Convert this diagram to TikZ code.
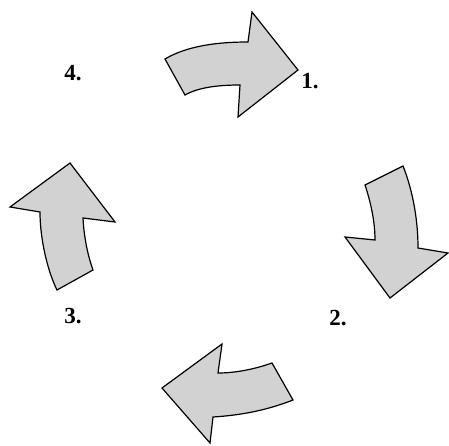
\documentclass[tikz,border=0pt]{standalone}
\usepackage{fontspec}
\setmainfont{Liberation Serif}
\usetikzlibrary{positioning}
\definecolor{arrowgray}{RGB}{210,210,210}

\begin{document}
\begin{tikzpicture}[x=1pt, y=-1pt, font=\fontsize{23}{26}\selectfont\bfseries,
  curlarrow/.style={fill=arrowgray, draw=black, line width=1.2pt, line join=miter}]
\useasboundingbox (0,0) rectangle (449,446);
% top arrow
\draw[curlarrow] (165,59) .. controls (182,49) and (207,42) .. (248,42) -- (252,12) -- (298,70)
  -- (238,117) -- (240,85) .. controls (220,85) and (199,87) .. (185,95) -- cycle;
% right arrow
\draw[curlarrow] (365,185) -- (403,166) .. controls (411,186) and (418,215) .. (418,248) -- (448,253)
  -- (390,298) -- (345,237) -- (375,240) .. controls (375,220) and (370,200) .. cycle;
% bottom arrow
\draw[curlarrow] (272,363) -- (293,400) .. controls (270,409) and (245,415) .. (213,417) -- (210,443)
  -- (162,388) -- (222,344) -- (218,373) .. controls (236,373) and (255,369) .. cycle;
% left arrow
\draw[curlarrow] (70,163) -- (115,222) -- (83,218) .. controls (84,238) and (88,256) .. (93,270)
  -- (57,290) .. controls (48,272) and (40,240) .. (40,212) -- (10,207) -- cycle;

\foreach \n/\x/\y in {1/310/81, 2/338/318, 3/73/316, 4/73/73}{
  \node (lab\n) at (\x,\y) {\n.};
}
\end{tikzpicture}
\end{document}
